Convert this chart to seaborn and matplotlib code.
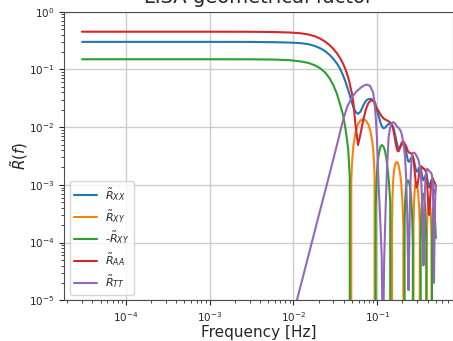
import numpy as np
import pandas as pd
import matplotlib
matplotlib.use("Agg")
import matplotlib.pyplot as plt
import seaborn as sns

# ---------------- data ----------------
freq = [3e-5, 1e-4, 3e-4, 1e-3, 3e-3, 6e-3, 0.009, 0.012, 0.015, 0.018, 0.021,
        0.024, 0.027, 0.030, 0.033, 0.036, 0.039, 0.042, 0.045, 0.047, 0.048,
        0.049, 0.050, 0.052, 0.055, 0.059, 0.063, 0.068, 0.073, 0.078, 0.083,
        0.087, 0.090, 0.093, 0.095,
        0.096, 0.098, 0.101, 0.105, 0.109, 0.113, 0.118, 0.123, 0.128, 0.133,
        0.138, 0.143, 0.149,
        0.150, 0.152, 0.155, 0.159, 0.164, 0.170, 0.176, 0.182, 0.188, 0.194,
        0.200, 0.205, 0.210,
        0.212, 0.215, 0.220, 0.226, 0.233, 0.240, 0.247, 0.254, 0.261, 0.266, 0.269,
        0.271, 0.275, 0.281, 0.288, 0.295, 0.302, 0.309, 0.316, 0.322, 0.328,
        0.330, 0.335, 0.341, 0.348, 0.356, 0.364, 0.372, 0.380, 0.385, 0.388,
        0.390, 0.395, 0.402, 0.410, 0.418, 0.426, 0.434, 0.441, 0.445, 0.448,
        0.450, 0.455, 0.462, 0.470, 0.478, 0.486, 0.493, 0.500]

R_XX = [0.3, 0.3, 0.3, 0.3, 0.2995, 0.296, 0.292, 0.286, 0.274, 0.255, 0.232,
        0.206, 0.179, 0.152, 0.127, 0.103, 0.080, 0.060, 0.044, 0.036, 0.032,
        0.029, 0.0265, 0.022, 0.0185, 0.0170, 0.0185, 0.0235, 0.0285, 0.0305, 0.031,
        0.030, 0.028, 0.0255, 0.0235,
        0.0225, 0.0205, 0.0178, 0.0148, 0.0122, 0.0105, 0.0096, 0.0097, 0.0103, 0.0110,
        0.0114, 0.0115, 0.0111,
        0.0110, 0.0107, 0.0100, 0.0088, 0.0072, 0.0056, 0.0046, 0.0043, 0.0045, 0.0049,
        0.0052, 0.0052, 0.0050,
        0.0048, 0.0045, 0.0039, 0.0032, 0.0026, 0.0025, 0.0027, 0.0029, 0.0030, 0.0030, 0.0029,
        0.0028, 0.0026, 0.0022, 0.0019, 0.0017, 0.0017, 0.0018, 0.0020, 0.0020, 0.0020,
        0.0019, 0.0018, 0.0015, 0.0013, 0.0012, 0.0013, 0.0014, 0.0015, 0.0015, 0.0015,
        0.0014, 0.0013, 0.0011, 0.0010, 0.0009, 0.0010, 0.0011, 0.0012, 0.0012, 0.0012,
        0.0011, 0.0010, 0.0009, 0.0008, 0.0007, 0.0008, 0.0008, 0.0008]

R_XY = [-0.15, -0.15, -0.15, -0.15, -0.1497, -0.148, -0.1445, -0.138, -0.130, -0.118, -0.104,
        -0.088, -0.070, -0.053, -0.038, -0.025, -0.0165, -0.0090, -0.0042, -0.0014, 0.0,
        0.0012, 0.0024, 0.0048, 0.0080, 0.0113, 0.0131, 0.0137, 0.0131, 0.0113, 0.0085,
        0.0058, 0.0037, 0.0015, 0.0,
        -0.0004, -0.0012, -0.0024, -0.0036, -0.0045, -0.0049, -0.0047, -0.0040, -0.0030, -0.0019,
        -0.0011, -0.0005, 0.0,
        0.0002, 0.0006, 0.0012, 0.0018, 0.0023, 0.0025, 0.0024, 0.0020, 0.0015, 0.0010,
        0.0005, 0.0002, 0.0,
        -0.0002, -0.0005, -0.0009, -0.0011, -0.0012, -0.0011, -0.0009, -0.0006, -0.0003, -0.0001, 0.0,
        0.0002, 0.0005, 0.0009, 0.0011, 0.0011, 0.0009, 0.0007, 0.0004, 0.0002, 0.0,
        -0.0001, -0.0003, -0.0005, -0.0007, -0.0007, -0.0006, -0.0004, -0.0002, -0.0001, 0.0,
        0.0001, 0.0003, 0.0005, 0.0006, 0.0006, 0.0005, 0.0003, 0.0002, 0.0001, 0.0,
        -0.0001, -0.0002, -0.0004, -0.0004, -0.0004, -0.0003, -0.0002, -0.00012]

R_AA = [0.45, 0.45, 0.45, 0.45, 0.449, 0.444, 0.436, 0.424, 0.404, 0.376, 0.340,
        0.302, 0.264, 0.227, 0.191, 0.158, 0.127, 0.099, 0.073, 0.057, 0.049,
        0.043, 0.038, 0.026, 0.011, 0.0049, 0.0075, 0.0132, 0.0200, 0.0258, 0.0285,
        0.0293, 0.0290, 0.0275, 0.0260,
        0.0229, 0.0217, 0.0202, 0.0184, 0.0167, 0.0154, 0.0143, 0.0137, 0.0133, 0.0129,
        0.0125, 0.0120, 0.0111,
        0.0108, 0.0102, 0.0092, 0.0076, 0.0058, 0.0044, 0.0038, 0.0039, 0.0045, 0.0052,
        0.0056, 0.0056, 0.0054,
        0.0050, 0.0050, 0.0048, 0.0043, 0.0038, 0.0036, 0.0036, 0.0035, 0.0033, 0.0031, 0.0029,
        0.0027, 0.0023, 0.0016, 0.0011, 0.0009, 0.0010, 0.0012, 0.0016, 0.0018, 0.0020,
        0.0020, 0.0021, 0.0020, 0.0020, 0.0019, 0.0019, 0.0018, 0.0017, 0.0016, 0.0015,
        0.0013, 0.0010, 0.0006, 0.0004, 0.0003, 0.0005, 0.0008, 0.0010, 0.0011, 0.0012,
        0.0012, 0.0012, 0.0013, 0.0012, 0.0011, 0.0011, 0.0010, 0.0009]

freq_TT = [0.0100, 0.0110, 0.015, 0.020, 0.025, 0.0297, 0.034, 0.0391, 0.0437, 0.0501,
           0.0560, 0.0625, 0.0690, 0.0757, 0.082, 0.0893, 0.0930, 0.0960, 0.0990, 0.1033,
           0.108, 0.113, 0.117, 0.121, 0.126, 0.131, 0.1368, 0.143, 0.149, 0.155,
           0.162, 0.170, 0.179, 0.187, 0.194, 0.205, 0.215, 0.222, 0.228, 0.233,
           0.236, 0.240, 0.245, 0.251, 0.258, 0.266, 0.275, 0.284, 0.297, 0.3105,
           0.325, 0.335, 0.345, 0.352, 0.356, 0.361, 0.368, 0.378, 0.392, 0.409,
           0.425, 0.440, 0.449, 0.458, 0.465, 0.471, 0.476, 0.482, 0.490, 0.500]
R_TT = [5.6e-6, 1.0e-5, 5.7e-5, 2.9e-4, 1.0e-3, 0.00266, 0.0058, 0.0132, 0.0224, 0.033,
        0.041, 0.0473, 0.0525, 0.0545, 0.052, 0.040, 0.026, 0.015, 0.0068, 0.0012,
        0.0003, 6e-5, 1e-6, 5e-5, 0.0004, 0.0020, 0.0068, 0.0100, 0.0116, 0.0122,
        0.0118, 0.0105, 0.0098, 0.0090, 0.0080, 0.0055, 0.0030, 0.0012, 0.0003, 5e-5,
        1.5e-5, 6e-5, 0.0004, 0.0015, 0.0030, 0.0036, 0.0036, 0.0035, 0.0031, 0.0027,
        0.0020, 0.0012, 0.0004, 0.0001, 4e-5, 0.0001, 0.0006, 0.0014, 0.0019, 0.0018,
        0.0017, 0.0016, 0.0015, 0.0011, 0.0005, 0.0001, 2e-5, 0.0001, 0.0005, 0.0010]

labels = [r'$\tilde{R}_{XX}$', r'$\tilde{R}_{XY}$', r'-$\tilde{R}_{XY}$',
          r'$\tilde{R}_{AA}$', r'$\tilde{R}_{TT}$']
colors = ['#1f77b4', '#ff7f0e', '#2ca02c', '#d62728', '#9467bd']

# ---------------- plot ----------------
sns.set_style("ticks", {"axes.grid": True, "grid.color": ".8",
                        "axes.edgecolor": ".3"})
plt.rcParams['font.family'] = ['DejaVu Sans']

fig = plt.figure(figsize=(4.53, 3.41), dpi=100)
ax = fig.add_axes([64.3 / 453, (341 - 300.3) / 341, (453.5 - 64.3) / 453,
                   (300.3 - 11.7) / 341])
ax.set_xscale('log')
ax.set_yscale('log')

f_arr = np.array(freq)
xy_arr = np.array(R_XY)
series = [
    (f_arr, np.array(R_XX)),
    (f_arr, xy_arr),
    (f_arr, -xy_arr),
    (f_arr, np.array(R_AA)),
    (np.array(freq_TT), np.array(R_TT)),
]
for (x, y), lab, col in zip(series, labels, colors):
    df = pd.DataFrame({"f": x, "R": y})
    sns.lineplot(data=df, x="f", y="R", ax=ax, color=col, label=lab,
                 estimator=None, sort=False, linewidth=1.5)

ax.set_ylim(1e-5, 1)
ax.set_xlabel('Frequency [Hz]', fontsize=11, labelpad=1)
ax.set_ylabel(r'$\tilde{R}(f)$', fontsize=11, labelpad=-1)
ax.set_title('LISA geometrical factor', fontsize=14)
ax.tick_params(labelsize=7.5)
ax.grid(True, which='major', color='.8', linewidth=1)
ax.grid(False, which='minor')
ax.legend(loc='lower left', fontsize=8, labelspacing=0.45)

fig.savefig('out.png', dpi=100)
